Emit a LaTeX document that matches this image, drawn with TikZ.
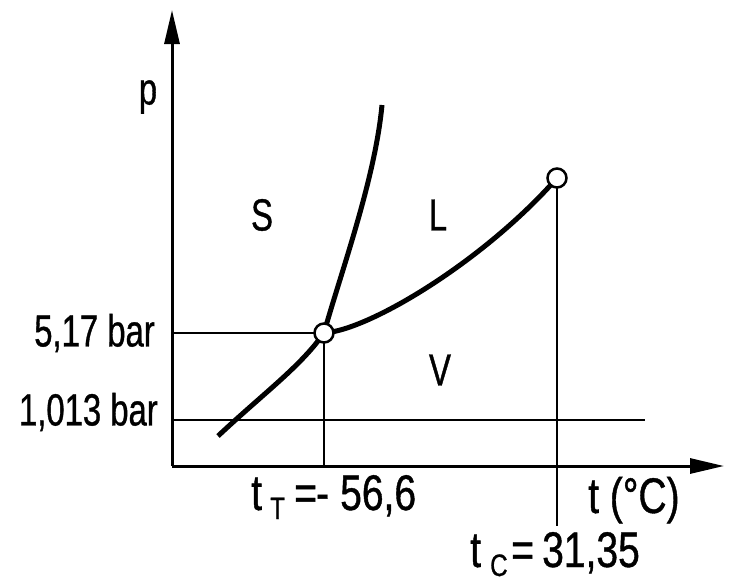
\documentclass[tikz,border=0pt]{standalone}
\usepackage{fontspec}
\setmainfont[FakeStretch=0.73,FakeBold=0.8]{Liberation Sans}
\newfontfamily\botfont[FakeStretch=0.78,FakeBold=0.8]{Liberation Sans}
\usetikzlibrary{arrows.meta}
\begin{document}
\begin{tikzpicture}[x=1pt,y=-1pt,
  axis/.style={line width=3pt,-{Triangle[length=34pt,width=15pt]}},
  thin/.style={line width=2pt},
  curve/.style={line width=5pt},
  pt/.style={circle,draw,line width=2.5pt,fill=white,minimum size=19pt,inner sep=0pt},
  lbl/.style={font=\fontsize{45}{45}\selectfont,inner sep=0pt},
  blbl/.style={font=\botfont\fontsize{50}{50}\selectfont,inner sep=0pt,anchor=base west},
  slbl/.style={font=\botfont\fontsize{31}{31}\selectfont,inner sep=0pt,anchor=base west}]
\useasboundingbox (0,0) rectangle (733,581);
\coordinate (O) at (172,466);
\coordinate (Ytop) at (172,10);
\coordinate (Xend) at (724,466);
\coordinate (Ya) at (172,333);
\coordinate (Yb) at (172,420);
\coordinate (Be) at (645,420);
\coordinate (Ts) at (324,466);
\coordinate (Cs) at (557,526);
\coordinate (Sub) at (218,436);
\coordinate (Mel) at (382,105);
% thin lines
\draw[thin] (Ya) -- (324,333);
\draw[thin] (Yb) -- (Be);
\draw[thin] (324,333) -- (Ts);
\draw[thin] (557,178) -- (Cs);
% axes
\draw[axis] (O) -- (Ytop);
\draw[axis] (O) -- (Xend);
% curves
\draw[curve] (Sub) .. controls (265,392) and (300,367) .. (324,333);
\draw[curve] (324,333) .. controls (340,275) and (375,180) .. (Mel);
\draw[curve] (324,333) .. controls (370,330) and (485,260) .. (557,178);
% points
\node[pt] (T) at (324,333) {};
\node[pt] (C) at (557,178) {};
% labels
\node[lbl] (p) at (148,97) {p};
\node[lbl] (S) at (262,215) {S};
\node[lbl] (L) at (438,215) {L};
\node[lbl] (V) at (440,370) {V};
\node[lbl,anchor=east] (a) at (155,333) {5,17 bar};
\node[lbl,anchor=east] (b) at (158,412) {1,013 bar};
% t_T = -56,6
\node[blbl] (tT1) at (251,510) {t};
\node[slbl] (tT2) at (270,519) {T};
\node[blbl] (tT3) at (294,510) {=};
\node[blbl] (tT4) at (316,510) {-};
\node[blbl] (tT5) at (340,510) {56,6};
% t (°C)
\node[blbl] (t) at (588,513) {t (°C)};
% t_C = 31,35
\node[blbl] (tC1) at (470,567) {t};
\node[slbl] (tC2) at (490,576) {C};
\node[blbl] (tC3) at (511,567) {=};
\node[blbl] (tC4) at (542,567) {31,35};
\end{tikzpicture}
\end{document}
